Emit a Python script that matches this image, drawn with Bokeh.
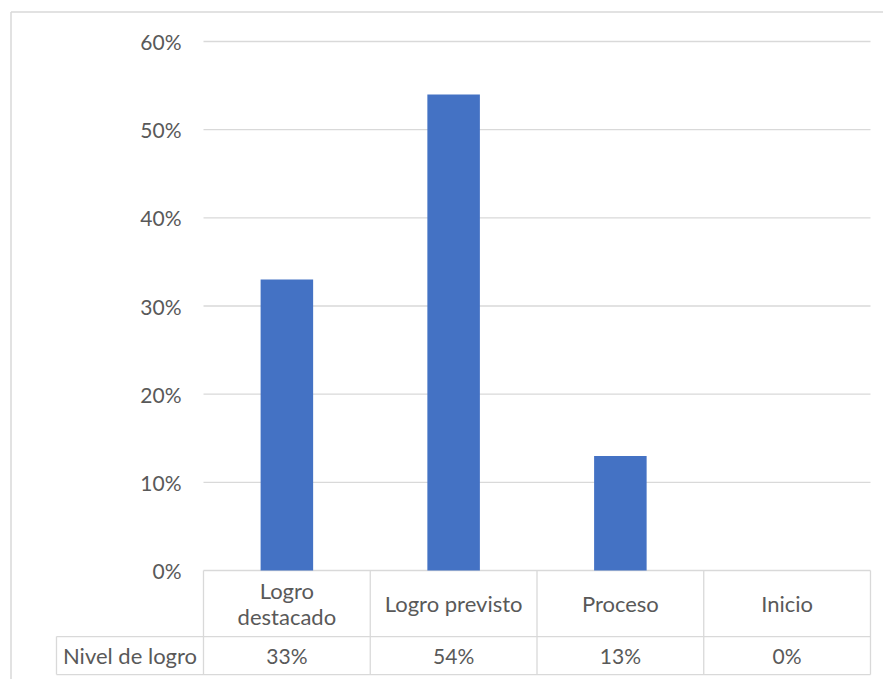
from bokeh.plotting import figure
from bokeh.models import Range1d, FixedTicker, NumeralTickFormatter, LinearAxis
from bokeh.embed import file_html
from bokeh.resources import INLINE
from bokeh.core.properties import value

# --- data -------------------------------------------------------------
categories = ["Logro destacado", "Logro previsto", "Proceso", "Inicio"]
category_labels = ["Logro\ndestacado", "Logro previsto", "Proceso", "Inicio"]
shares = [0.33, 0.54, 0.13, 0.0]
share_labels = ["33%", "54%", "13%", "0%"]
series_name = "Nivel de logro"
y_ticks = [0.0, 0.1, 0.2, 0.3, 0.4, 0.5, 0.6]

# --- styling ----------------------------------------------------------
FONT = "Lato"
TEXT_COLOR = "#595959"
LINE_COLOR = "#d9d9d9"
BAR_COLOR = "#4472c4"
WORD_SIZE = "22px"
NUMBER_SIZE = "21px"

# --- layout in data units (one category per unit, shares as fractions) --
X_START, X_END = -1.2174, 4.0780
Y_START, Y_END = -0.1236, 0.6465
HEADER_BOTTOM = -0.0749          # line between category row and value row
TABLE_BOTTOM = -0.1180
LABEL_LEFT = -0.8816             # left edge of the series-name cell
BORDER_X = -1.1544               # chart border, left side
BORDER_Y = 0.6335                # chart border, top side
HEADER_MID = -0.0374
VALUE_MID = -0.0964
BAR_WIDTH = 0.315

n = len(categories)
centers = [i + 0.5 for i in range(n)]

p = figure(
    width=883, height=679,
    x_range=Range1d(X_START, X_END), y_range=Range1d(Y_START, Y_END),
    x_axis_location=None, y_axis_location=None,
    toolbar_location=None, output_backend="svg",
    min_border=0,
)
p.outline_line_color = None
p.background_fill_color = "white"
p.border_fill_color = "white"
p.xgrid.visible = False
p.ygrid.visible = False

# chart border (top and left edges)
p.segment(x0=[BORDER_X, BORDER_X], y0=[BORDER_Y, BORDER_Y],
          x1=[X_END + 1, BORDER_X], y1=[BORDER_Y, Y_START - 1],
          line_color=LINE_COLOR, line_width=1.5)

# horizontal gridlines across the plotting area
p.segment(x0=[0] * len(y_ticks), y0=y_ticks, x1=[n] * len(y_ticks), y1=y_ticks,
          line_color=LINE_COLOR, line_width=1.3)

# bars
p.vbar(x=centers, top=shares, bottom=0, width=BAR_WIDTH,
       fill_color=BAR_COLOR, line_color=None)

# data table below the plot
p.segment(x0=[LABEL_LEFT, LABEL_LEFT], y0=[HEADER_BOTTOM, TABLE_BOTTOM],
          x1=[n, n], y1=[HEADER_BOTTOM, TABLE_BOTTOM],
          line_color=LINE_COLOR, line_width=1.3)
col_edges = list(range(n + 1))
p.segment(x0=col_edges, y0=[0] * (n + 1), x1=col_edges, y1=[TABLE_BOTTOM] * (n + 1),
          line_color=LINE_COLOR, line_width=1.3)
p.segment(x0=[LABEL_LEFT], y0=[HEADER_BOTTOM], x1=[LABEL_LEFT], y1=[TABLE_BOTTOM],
          line_color=LINE_COLOR, line_width=1.3)

p.text(x=centers, y=[HEADER_MID] * n, text=category_labels,
       text_align="center", text_baseline="middle", text_line_height=0.95,
       text_font=value(FONT), text_font_size=WORD_SIZE, text_color=TEXT_COLOR)
p.text(x=centers, y=[VALUE_MID] * n, text=share_labels,
       text_align="center", text_baseline="middle",
       text_font=value(FONT), text_font_size=NUMBER_SIZE, text_color=TEXT_COLOR)
p.text(x=[LABEL_LEFT / 2], y=[VALUE_MID], text=[series_name],
       text_align="center", text_baseline="middle",
       text_font=value(FONT), text_font_size=WORD_SIZE, text_color=TEXT_COLOR)

# percentage axis anchored at the left edge of the plotting area
yaxis = LinearAxis(fixed_location=0,
                   ticker=FixedTicker(ticks=y_ticks),
                   formatter=NumeralTickFormatter(format="0%"))
yaxis.axis_line_color = None
yaxis.major_tick_line_color = None
yaxis.minor_tick_line_color = None
yaxis.major_tick_out = 0
yaxis.major_tick_in = 0
yaxis.major_label_standoff = 22
yaxis.major_label_text_font = FONT
yaxis.major_label_text_font_size = NUMBER_SIZE
yaxis.major_label_text_color = TEXT_COLOR
p.add_layout(yaxis, "left")

open("out.html", "w").write(file_html(p, INLINE))
